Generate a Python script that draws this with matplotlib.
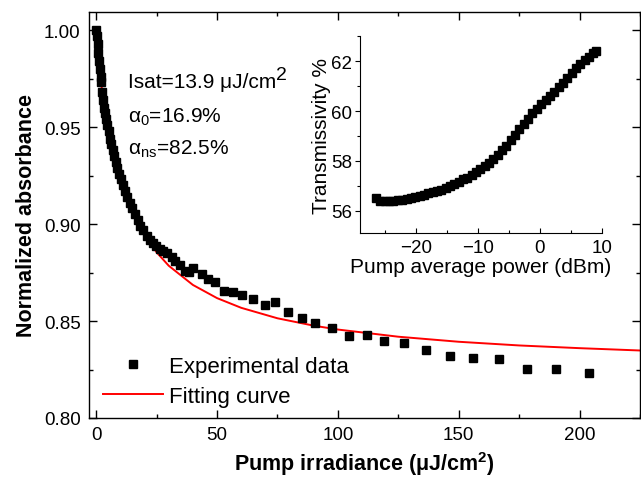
import matplotlib
matplotlib.use("Agg")
import matplotlib.pyplot as plt
from matplotlib.ticker import MultipleLocator, FormatStrFormatter

plt.rcParams['font.family'] = ['Liberation Sans', 'DejaVu Sans']
plt.rcParams['mathtext.fontset'] = 'custom'
plt.rcParams['mathtext.rm'] = 'Liberation Sans'
plt.rcParams['mathtext.it'] = 'Liberation Sans:italic'
plt.rcParams['mathtext.bf'] = 'Liberation Sans:bold'

# main plot: normalized absorbance vs pump irradiance (uJ/cm2)
exp_x = [0.0, 0.3, 0.6, 0.9, 1.2, 1.5, 1.8, 2.1, 2.5, 2.9, 3.3, 3.7, 4.1, 4.6,
         5.1, 5.6, 6.2, 6.8, 7.4, 8.1, 8.8, 9.5, 10.3, 11.1, 12.0, 12.9, 13.9,
         14.9, 16.0, 17.1, 18.3, 19.5, 20.9, 22.2, 23.6, 24.9, 26.4, 27.7, 29.3,
         31.2, 32.8, 34.8, 36.7, 38.3, 40.2, 43.6, 46.4, 49.3, 53.0, 56.7, 60.4,
         65.0, 69.8, 74.0, 79.5, 85.0, 90.5, 97.4, 104.7, 111.9, 119.1, 127.5,
         136.5, 146.4, 156.0, 166.7, 178.3, 190.3, 203.9]
exp_y = [1.000, 0.997, 0.993, 0.988, 0.984, 0.980, 0.976, 0.973, 0.968, 0.964,
         0.960, 0.957, 0.954, 0.951, 0.948, 0.944, 0.941, 0.938, 0.935, 0.932,
         0.929, 0.926, 0.923, 0.920, 0.917, 0.914, 0.911, 0.908, 0.905, 0.902,
         0.899, 0.897, 0.894, 0.892, 0.890, 0.8885, 0.887, 0.886, 0.885, 0.883,
         0.881, 0.879, 0.876, 0.8751, 0.8775, 0.874, 0.8717, 0.870, 0.8656,
         0.8652, 0.8634, 0.8613, 0.8585, 0.860, 0.8545, 0.8514, 0.849, 0.8462,
         0.8424, 0.8428, 0.8398, 0.8385, 0.8349, 0.8321, 0.8308, 0.8304,
         0.8253, 0.8251, 0.823]

fit_x = [0, 1, 2, 3, 5, 7, 10, 14, 20, 25, 30, 40, 50, 60, 75, 90, 100, 125,
         150, 175, 200, 225]
fit_y = [0.994, 0.9827, 0.9727, 0.9640, 0.9493, 0.9374, 0.9233, 0.9092,
         0.8943, 0.8854, 0.8785, 0.8686, 0.8618, 0.8568, 0.8514, 0.8476,
         0.8456, 0.8419, 0.8393, 0.8374, 0.8360, 0.8348]

# inset: transmissivity vs pump average power (dBm)
ins_x = [-26.4, -25.7, -25.0, -24.3, -23.6, -22.9, -22.2, -21.5, -20.8, -20.1,
         -19.4, -18.7, -18.0, -17.3, -16.6, -15.9, -15.2, -14.5, -13.8, -13.1,
         -12.4, -11.7, -11.0, -10.3, -9.6, -8.9, -8.2, -7.5, -6.8, -6.1, -5.4,
         -4.7, -4.0, -3.3, -2.6, -1.9, -1.2, -0.5, 0.2, 0.9, 1.6, 2.3, 3.0,
         3.7, 4.4, 5.1, 5.8, 6.5, 7.2, 7.9, 8.6, 9.0]
ins_y = [56.50, 56.40, 56.38, 56.40, 56.41, 56.45, 56.44, 56.48, 56.52, 56.55,
         56.60, 56.65, 56.70, 56.74, 56.79, 56.84, 56.91, 57.00, 57.08, 57.15,
         57.26, 57.33, 57.44, 57.55, 57.67, 57.79, 57.91, 58.06, 58.23, 58.42,
         58.62, 58.83, 59.06, 59.29, 59.49, 59.70, 59.91, 60.10, 60.30, 60.45,
         60.60, 60.77, 60.95, 61.14, 61.33, 61.54, 61.73, 61.88, 62.03, 62.18,
         62.32, 62.39]

fig = plt.figure(figsize=(6.41, 4.81), dpi=100)
ax = fig.add_axes([0.1388, 0.1289, 0.8596, 0.8441])

fit_line, = ax.plot(fit_x, fit_y, color='red', lw=1.4, zorder=2)
exp_pts, = ax.plot(exp_x, exp_y, 's', color='black', ms=6, zorder=3)

ax.set_xlim(-3, 225)
ax.set_ylim(0.80, 1.0093)
ax.xaxis.set_major_locator(MultipleLocator(50))
ax.xaxis.set_minor_locator(MultipleLocator(25))
ax.yaxis.set_major_locator(MultipleLocator(0.05))
ax.yaxis.set_minor_locator(MultipleLocator(0.025))
ax.yaxis.set_major_formatter(FormatStrFormatter('%.2f'))
ax.tick_params(which='both', direction='in', top=True, right=True, width=1.0)
ax.tick_params(which='major', length=5.5, labelsize=13.5, pad=6)
ax.tick_params(which='minor', length=3)
for s in ax.spines.values():
    s.set_linewidth(1.0)

ax.set_xlabel('Pump irradiance (μJ/cm$^{\\mathbf{2}}$)', fontsize=15.5,
              fontweight='bold', labelpad=4)
ax.set_ylabel('Normalized absorbance', fontsize=15.5, fontweight='bold',
              labelpad=5)

t = ax.text(0.0708, 0.815, 'Isat=13.9 μJ/cm', transform=ax.transAxes,
            fontsize=15, va='baseline')
ax.annotate('2', xy=(1.0, 0.45), xycoords=t, fontsize=14, va='bottom',
            ha='left')
ax.text(0.0708, 0.729, 'α$_{\\mathregular{0}}$=16.9%', transform=ax.transAxes,
        fontsize=15, va='baseline')
ax.text(0.0708, 0.650, 'α$_{\\mathregular{ns}}$=82.5%', transform=ax.transAxes,
        fontsize=15, va='baseline')

ax.legend([exp_pts, fit_line], ['Experimental data', 'Fitting curve'],
          loc='lower left', bbox_to_anchor=(0.0254, 0.028), frameon=False,
          fontsize=16, numpoints=1, handlelength=2.7, handletextpad=0.25,
          labelspacing=0.38, borderpad=0, borderaxespad=0)

# inset
ins = fig.add_axes([0.5616, 0.5129, 0.3775, 0.4096])
ins.plot(ins_x, ins_y, 's', color='black', ms=5.5)
ins.set_xlim(-29, 10)
ins.set_ylim(55.1, 63)
ins.spines['top'].set_visible(False)
ins.spines['right'].set_visible(False)
ins.xaxis.set_major_locator(MultipleLocator(10))
ins.xaxis.set_minor_locator(MultipleLocator(5))
ins.yaxis.set_major_locator(MultipleLocator(2))
ins.yaxis.set_minor_locator(MultipleLocator(1))
ins.tick_params(axis='x', which='both', direction='in', labelsize=13.5, pad=4)
ins.tick_params(axis='y', which='both', direction='out', labelsize=13.5, pad=2)
ins.tick_params(which='major', length=3.6, width=0.8)
ins.tick_params(which='minor', length=2.2, width=0.8)
for s in ins.spines.values():
    s.set_linewidth(0.8)
ins.set_xlabel('Pump average power (dBm)', fontsize=15, labelpad=1)
ins.set_ylabel('Transmissivity %', fontsize=15, labelpad=0)

fig.savefig('out.png', dpi=100)
